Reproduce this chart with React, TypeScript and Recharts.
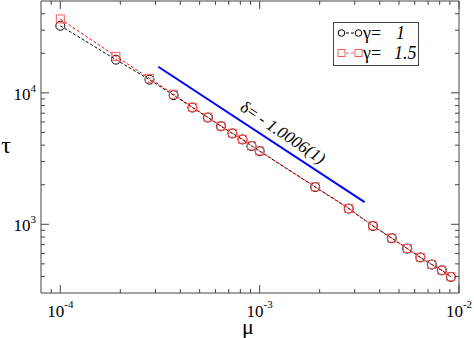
import React from 'react';
import { ScatterChart, Scatter, XAxis, YAxis, Legend, ReferenceDot, Label } from 'recharts';

const muValues = [1e-4, 1.9e-4, 2.8e-4, 3.7e-4, 4.6e-4, 5.5e-4, 6.4e-4, 7.3e-4, 8.2e-4, 9.1e-4, 1e-3, 1.9e-3, 2.8e-3, 3.7e-3, 4.6e-3, 5.5e-3, 6.4e-3, 7.3e-3, 8.2e-3, 9.1e-3];
const tauGamma1 = [32400, 17900, 12600, 9600, 7730, 6490, 5570, 4910, 4420, 3940, 3600, 1920, 1316, 970, 783, 653, 559, 494, 446, 398];
const tauGamma15 = [36500, 18960, 12900, 9760, 7780, 6520, 5590, 4930, 4440, 3955, 3615, 1928, 1320, 973, 786, 655, 561, 495, 447, 399];
const fitMu = [3.1e-4, 3.36e-3];
const fitTau = [15800, 1476];
const fitLabel = { mu: 1.31e-3, tau: 5000, text1: 'δ= - ', text2: '1.0006(1)' };
const xTicks = [9e-5, 1e-4, 2e-4, 3e-4, 4e-4, 5e-4, 6e-4, 7e-4, 8e-4, 9e-4, 1e-3, 2e-3, 3e-3, 4e-3, 5e-3, 6e-3, 7e-3, 8e-3, 9e-3, 1e-2];
const yTicks = [400, 500, 600, 700, 800, 900, 1000, 2000, 3000, 4000, 5000, 6000, 7000, 8000, 9000, 10000, 20000, 30000, 40000];
const seriesNames = ['1', '1.5'];

const FONT = 'Liberation Serif, Times New Roman, serif';
const AXIS = '#444';
const RED_SQ = '#ff5a5a';
const TXT = { fontFamily: FONT };

const g1 = muValues.map((x, i) => ({ x, y: tauGamma1[i] }));
const g15 = muValues.map((x, i) => ({ x, y: tauGamma15[i] }));
const fit = fitMu.map((x, i) => ({ x, y: fitTau[i] }));

const isMajor = (v: number) => Math.abs(Math.log10(v) - Math.round(Math.log10(v))) < 1e-6;
const expOf = (v: number) => String(Math.round(Math.log10(v)));

const BottomTick = (p: any) => {
  const { x, y, payload } = p;
  const v = payload.value;
  const major = isMajor(v);
  return (
    <g>
      <line x1={x} x2={x} y1={y} y2={y - (major ? 8 : 4)} stroke={AXIS} />
      {major && (
        <text x={x} y={y + 24} textAnchor="middle" fontSize={17} style={TXT} fill="#000">
          10<tspan dy={-9} fontSize={11}>{expOf(v)}</tspan>
        </text>
      )}
    </g>
  );
};
const TopTick = (p: any) => {
  const { x, y, payload } = p;
  const major = isMajor(payload.value);
  return <line x1={x} x2={x} y1={y} y2={y + (major ? 8 : 4)} stroke={AXIS} />;
};
const LeftTick = (p: any) => {
  const { x, y, payload } = p;
  const v = payload.value;
  const major = isMajor(v);
  return (
    <g>
      <line x1={x} x2={x + (major ? 8 : 4)} y1={y} y2={y} stroke={AXIS} />
      {major && (
        <text x={x - 5} y={y + 7} textAnchor="end" fontSize={17} style={TXT} fill="#000">
          10<tspan dy={-8} fontSize={11}>{expOf(v)}</tspan>
        </text>
      )}
    </g>
  );
};
const RightTick = (p: any) => {
  const { x, y, payload } = p;
  const major = isMajor(payload.value);
  return <line x1={x} x2={x - (major ? 8 : 4)} y1={y} y2={y} stroke={AXIS} />;
};

const CircleShape = (p: any) => <circle cx={p.cx} cy={p.cy} r={4.5} fill="none" stroke="#000" strokeWidth={1} />;
const SquareShape = (p: any) => <rect x={p.cx - 4} y={p.cy - 4} width={8} height={8} fill="none" stroke={RED_SQ} strokeWidth={1} />;
const NoShape = () => <g />;

const renderLegend = () => (
  <svg width={86} height={44} style={{ display: 'block' }}>
    <rect x={0.5} y={0.5} width={85} height={43} fill="#fff" stroke={AXIS} />
    <line x1={8} x2={26} y1={11} y2={11} stroke="#000" strokeDasharray="3 2" />
    <circle cx={8.5} cy={11} r={3.3} fill="#fff" stroke="#000" />
    <circle cx={25.5} cy={11} r={3.3} fill="#fff" stroke="#000" />
    <text x={30} y={17} fontSize={18} style={TXT} fill="#000">
      γ=
    </text>
    <text x={63} y={17} fontSize={18} style={TXT} fontStyle="italic" fill="#000">
      {seriesNames[0]}
    </text>
    <line x1={8} x2={26} y1={31} y2={31} stroke={RED_SQ} strokeDasharray="3 2" />
    <rect x={5} y={27.5} width={7} height={7} fill="#fff" stroke={RED_SQ} />
    <rect x={22} y={27.5} width={7} height={7} fill="#fff" stroke={RED_SQ} />
    <text x={30} y={37} fontSize={18} style={TXT} fill="#000">
      γ=
    </text>
    <text x={61} y={37} fontSize={18} style={TXT} fontStyle="italic" fill="#000">
      {seriesNames[1]}
    </text>
  </svg>
);

const FitText = (p: any) => (
  <text
    x={p.cx}
    y={p.cy}
    transform={`rotate(33.5 ${p.cx} ${p.cy})`}
    textAnchor="middle"
    dominantBaseline="central"
    fontSize={17}
    style={TXT}
    fill="#000"
  >
    {fitLabel.text1}
    <tspan fontStyle="italic">{fitLabel.text2}</tspan>
  </text>
);

export default function App() {
  return (
    <div style={{ position: 'absolute', left: 0, top: 0, width: 474, height: 338, background: '#fff', fontFamily: FONT }}>
      <ScatterChart width={474} height={338} margin={{ top: 0, right: 14, bottom: 44, left: 40 }}>
        <XAxis
          xAxisId="b"
          type="number"
          dataKey="x"
          scale="log"
          domain={[8e-5, 1e-2]}
          allowDataOverflow
          ticks={xTicks}
          interval={0}
          height={1}
          tickSize={0}
          tickMargin={0}
          tickLine={false}
          tick={<BottomTick />}
          axisLine={{ stroke: AXIS }}
        >
          <Label
            content={(p: any) => (
              <text x={p.viewBox.x + p.viewBox.width / 2 - 2} y={p.viewBox.y + 41} textAnchor="middle" fontSize={22} style={TXT} fill="#000">
                μ
              </text>
            )}
          />
        </XAxis>
        <XAxis
          xAxisId="t"
          orientation="top"
          type="number"
          dataKey="x"
          scale="log"
          domain={[8e-5, 1e-2]}
          allowDataOverflow
          ticks={xTicks}
          interval={0}
          height={1}
          tickSize={0}
          tickMargin={0}
          tickLine={false}
          tick={<TopTick />}
          axisLine={{ stroke: AXIS }}
        />
        <YAxis
          yAxisId="l"
          type="number"
          dataKey="y"
          scale="log"
          domain={[300, 50000]}
          allowDataOverflow
          ticks={yTicks}
          interval={0}
          width={1}
          tickSize={0}
          tickMargin={0}
          tickLine={false}
          tick={<LeftTick />}
          axisLine={{ stroke: AXIS }}
        >
          <Label
            content={(p: any) => (
              <text x={p.viewBox.x + p.viewBox.width - 35} y={p.viewBox.y + 152} textAnchor="middle" fontSize={24} style={TXT} fill="#000">
                τ
              </text>
            )}
          />
        </YAxis>
        <YAxis
          yAxisId="r"
          orientation="right"
          type="number"
          dataKey="y"
          scale="log"
          domain={[300, 50000]}
          allowDataOverflow
          ticks={yTicks}
          interval={0}
          width={1}
          tickSize={0}
          tickMargin={0}
          tickLine={false}
          tick={<RightTick />}
          axisLine={{ stroke: AXIS }}
        />
        <Scatter
          xAxisId="b"
          yAxisId="l"
          data={fit}
          line={{ stroke: '#0000ff', strokeWidth: 2 }}
          shape={NoShape}
          isAnimationActive={false}
        />
        <Scatter
          xAxisId="b"
          yAxisId="l"
          name="γ= 1"
          data={g1}
          line={{ stroke: '#000', strokeWidth: 1, strokeDasharray: '3 2' }}
          shape={CircleShape}
          isAnimationActive={false}
        />
        <Scatter
          xAxisId="b"
          yAxisId="l"
          name="γ= 1.5"
          data={g15}
          line={{ stroke: '#ff0000', strokeWidth: 1, strokeDasharray: '3 2' }}
          shape={SquareShape}
          isAnimationActive={false}
        />
        <ReferenceDot xAxisId="b" yAxisId="l" x={fitLabel.mu} y={fitLabel.tau} r={0} shape={FitText} />
        <Legend
          layout="vertical"
          align="center"
          verticalAlign="middle"
          content={renderLegend}
          wrapperStyle={{ position: 'absolute', left: 333, top: 22, width: 86, height: 44 }}
        />
      </ScatterChart>
    </div>
  );
}
